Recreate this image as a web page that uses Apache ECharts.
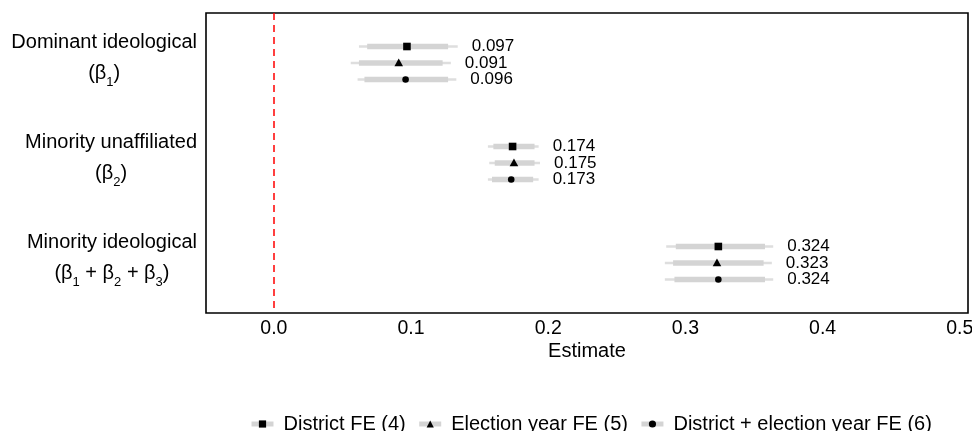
<!DOCTYPE html>
<html>
<head>
<meta charset="utf-8">
<script src="https://cdn.jsdelivr.net/npm/echarts@6.0.0/dist/echarts.min.js"></script>
<style>
  html, body { margin: 0; padding: 0; background: #fff; }
  #coefplot { width: 972px; height: 431px; }
</style>
</head>
<body>
<div id="coefplot"></div>
<script>
var categories = ["Dominant ideological", "Minority unaffiliated", "Minority ideological"];
var betaSubs = [["1"], ["2"], ["1", "2", "3"]];
var models = ["District FE (4)", "Election year FE (5)", "District + election year FE (6)"];
var xTicks = [0, 0.1, 0.2, 0.3, 0.4, 0.5];

// point estimates per model, one value per category
var est4 = [0.097, 0.174, 0.324];
var est5 = [0.091, 0.175, 0.323];
var est6 = [0.096, 0.173, 0.324];

// 95% (thin) and 90% (thick) intervals
var lo95_4 = [0.062, 0.156, 0.286], hi95_4 = [0.134, 0.193, 0.364];
var lo90_4 = [0.068, 0.160, 0.293], hi90_4 = [0.127, 0.190, 0.358];
var lo95_5 = [0.056, 0.157, 0.285], hi95_5 = [0.129, 0.194, 0.363];
var lo90_5 = [0.062, 0.161, 0.291], hi90_5 = [0.123, 0.190, 0.357];
var lo95_6 = [0.061, 0.156, 0.285], hi95_6 = [0.133, 0.193, 0.364];
var lo90_6 = [0.066, 0.159, 0.292], hi90_6 = [0.127, 0.189, 0.358];

var FONT = "'Liberation Sans', Arial, Helvetica, sans-serif";
var ROW_GAP = 16.5;
var symbols = ["rect", "triangle", "circle"];

function buildData(est, lo95, lo90, hi90, hi95) {
  return categories.map(function (c, i) {
    return [i, est[i], lo95[i], lo90[i], hi90[i], hi95[i]];
  });
}

var seriesData = [
  buildData(est4, lo95_4, lo90_4, hi90_4, hi95_4),
  buildData(est5, lo95_5, lo90_5, hi90_5, hi95_5),
  buildData(est6, lo95_6, lo90_6, hi90_6, hi95_6),
];

function markerShape(kind, x, y) {
  if (kind === "rect") {
    return { type: "rect", shape: { x: x - 3.8, y: y - 3.8, width: 7.6, height: 7.6 }, style: { fill: "#000" } };
  }
  if (kind === "triangle") {
    return { type: "polygon", shape: { points: [[x, y - 4.5], [x - 4.3, y + 3.3], [x + 4.3, y + 3.3]] }, style: { fill: "#000" } };
  }
  return { type: "circle", shape: { cx: x, cy: y, r: 3.3 }, style: { fill: "#000" } };
}

function makeRender(k) {
  return function (params, api) {
    var cat = api.value(0);
    var p = api.coord([api.value(1), cat]);
    var y = p[1] + (k - 1) * ROW_GAP;
    var xa95 = api.coord([api.value(2), cat])[0];
    var xa90 = api.coord([api.value(3), cat])[0];
    var xb90 = api.coord([api.value(4), cat])[0];
    var xb95 = api.coord([api.value(5), cat])[0];
    return {
      type: "group",
      children: [
        { type: "line", shape: { x1: xa95, y1: y, x2: xb95, y2: y }, style: { stroke: "#dedede", lineWidth: 2.6 } },
        { type: "line", shape: { x1: xa90, y1: y, x2: xb90, y2: y }, style: { stroke: "#d4d4d4", lineWidth: 5.5 } },
        markerShape(symbols[k], p[0], y),
        {
          type: "text",
          style: {
            x: xb95 + 14, y: y,
            text: api.value(1).toFixed(3),
            fill: "#000",
            fontSize: 17,
            fontFamily: FONT,
            align: "left",
            verticalAlign: "middle",
          },
        },
      ],
    };
  };
}

function yLabel(value) {
  var i = categories.indexOf(value);
  var subs = betaSubs[i];
  var line2 = "{t|(}";
  subs.forEach(function (s, j) {
    line2 += "{t|" + (j > 0 ? " + β" : "β") + "}{s|" + s + "}";
  });
  line2 += "{t|)}";
  return "{t|" + value + "}\n" + line2;
}

var series = [];
models.forEach(function (m, k) {
  series.push({
    name: m,
    type: "line",
    data: [],
    symbol: symbols[k],
    itemStyle: { color: "#000" },
    lineStyle: { color: "#d4d4d4", width: 5 },
  });
});
models.forEach(function (m, k) {
  series.push({
    name: m,
    type: "custom",
    renderItem: makeRender(k),
    encode: { x: [1, 2, 3, 4, 5], y: 0 },
    data: seriesData[k],
    z: 3,
  });
});
series[0].markLine = {
  silent: true,
  symbol: ["none", "none"],
  label: { show: false },
  lineStyle: { color: "#ff0000", type: [7, 5], width: 1.5 },
  data: [{ xAxis: 0 }],
};

var myChart = echarts.init(document.getElementById("coefplot"));

var option = {
  animation: false,
  textStyle: { fontFamily: FONT, color: "#000" },
  grid: {
    left: 206,
    right: 4,
    top: 13,
    bottom: 118,
    show: true,
    borderColor: "#000",
    borderWidth: 1.6,
    backgroundColor: "#fff",
    outerBoundsMode: "none",
  },
  legend: {
    data: models,
    left: 244,
    top: 409,
    itemWidth: 22,
    itemHeight: 9,
    itemGap: 11,
    lineStyle: { width: 5, color: "#d4d4d4" },
    textStyle: { fontSize: 20, color: "#000", fontFamily: FONT, padding: [0, 0, 0, 5] },
  },
  xAxis: {
    type: "value",
    min: -0.0495,
    max: 0.506,
    axisLine: { show: false },
    splitLine: { show: false },
    axisTick: {
      customValues: xTicks,
      length: 4,
      lineStyle: { color: "#333", width: 1.5 },
    },
    axisLabel: {
      customValues: xTicks,
      formatter: function (v) { return v.toFixed(1); },
      fontSize: 19.5,
      color: "#000",
      fontFamily: FONT,
      margin: 6,
    },
    name: "Estimate",
    nameLocation: "middle",
    nameGap: 28,
    nameMoveOverlap: false,
    nameTextStyle: { fontSize: 20, color: "#000", fontFamily: FONT },
  },
  yAxis: {
    type: "category",
    data: categories,
    inverse: true,
    axisLine: { show: false },
    splitLine: { show: false },
    axisTick: {
      alignWithLabel: true,
      length: 4,
      lineStyle: { color: "#333", width: 1.5 },
    },
    axisLabel: {
      formatter: yLabel,
      margin: 9,
      padding: [0, 0, 10, 0],
      rich: {
        t: { fontSize: 20, lineHeight: 31, align: "center", color: "#000", fontFamily: FONT },
        s: { fontSize: 13, lineHeight: 21, align: "center", verticalAlign: "bottom", color: "#000", fontFamily: FONT },
      },
    },
  },
  series: series,
};

myChart.setOption(option);
</script>
</body>
</html>
